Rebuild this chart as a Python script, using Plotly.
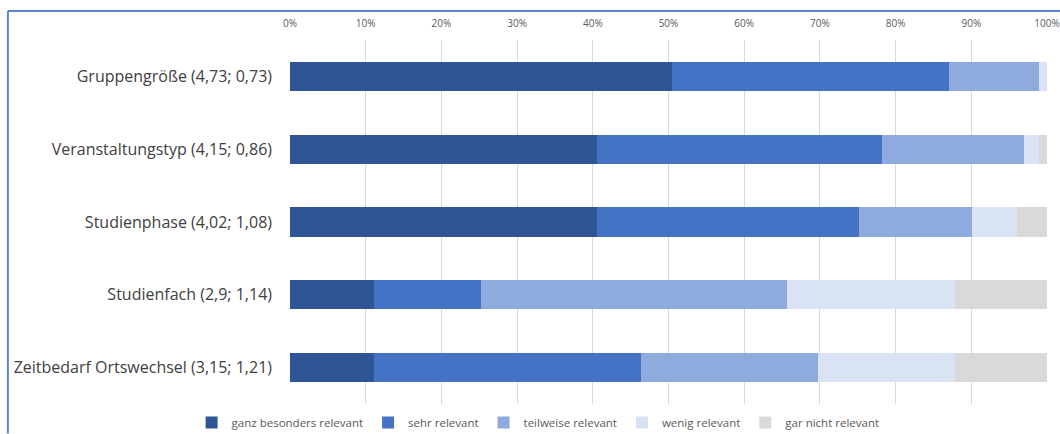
import plotly.graph_objects as go

categories = [
    "Gruppengröße (4,73; 0,73)",
    "Veranstaltungstyp (4,15; 0,86)",
    "Studienphase (4,02; 1,08)",
    "Studienfach (2,9; 1,14)",
    "Zeitbedarf Ortswechsel (3,15; 1,21)",
]
series_names = ["ganz besonders relevant", "sehr relevant", "teilweise relevant",
                "wenig relevant", "gar nicht relevant"]
ganz_besonders = [50.5, 40.5, 40.5, 11.1, 11.1]
sehr = [36.6, 37.7, 34.7, 14.1, 35.3]
teilweise = [11.8, 18.8, 14.9, 40.5, 23.3]
wenig = [1.1, 2.0, 5.9, 22.2, 18.2]
gar_nicht = [0.0, 1.0, 4.0, 12.1, 12.1]
tick_values = [0, 10, 20, 30, 40, 50, 60, 70, 80, 90, 100]
tick_labels = ["0%", "10%", "20%", "30%", "40%", "50%", "60%", "70%", "80%", "90%", "100%"]

colors = ["#2F5597", "#4472C4", "#8FAADC", "#DAE3F3", "#D9D9D9"]
all_series = [ganz_besonders, sehr, teilweise, wenig, gar_nicht]

fig = go.Figure()
for name, vals, col in zip(series_names, all_series, colors):
    fig.add_trace(go.Bar(
        y=categories, x=vals, name=name, orientation="h",
        marker=dict(color=col, line=dict(width=0)),
    ))

W, H = 1060, 434
L, R, T, B = 290, 1046.7, 39.5, 404.5
pw, ph = R - L, B - T

def px(x):
    return (x - L) / pw

def py(y):
    return (B - y) / ph

fig.update_layout(
    width=W, height=H,
    barmode="stack", bargap=0.6,
    margin=dict(l=L, r=W - R, t=T, b=H - B, pad=0, autoexpand=False),
    paper_bgcolor="white", plot_bgcolor="white",
    font=dict(family="Open Sans", color="#595959"),
    showlegend=True,
    legend=dict(orientation="h", x=px(538), xanchor="center", y=py(423), yanchor="middle",
                font=dict(size=11.5, color="#595959"), traceorder="normal",
                itemwidth=30, tracegroupgap=0),
    xaxis=dict(side="top", range=[0, 100], tickvals=tick_values, ticktext=tick_labels,
               showgrid=True, gridcolor="#D9D9D9", gridwidth=1, zeroline=False,
               showline=False, ticks="", tickfont=dict(size=10, color="#595959"),
               ticklabelstandoff=10, fixedrange=True, automargin=False),
    yaxis=dict(autorange="reversed", showgrid=False, showline=False, ticks="",
               tickfont=dict(size=16, color="#404040"), ticklabelstandoff=17,
               automargin=False),
    shapes=[
        dict(type="line", xref="paper", yref="paper", x0=px(8), x1=px(1060), y0=py(10.5), y1=py(10.5),
             line=dict(color="#5B87C9", width=2)),
        dict(type="line", xref="paper", yref="paper", x0=px(8), x1=px(8), y0=py(10.5), y1=py(434),
             line=dict(color="#5B87C9", width=2)),
    ],
)

fig.write_html("out.html")
